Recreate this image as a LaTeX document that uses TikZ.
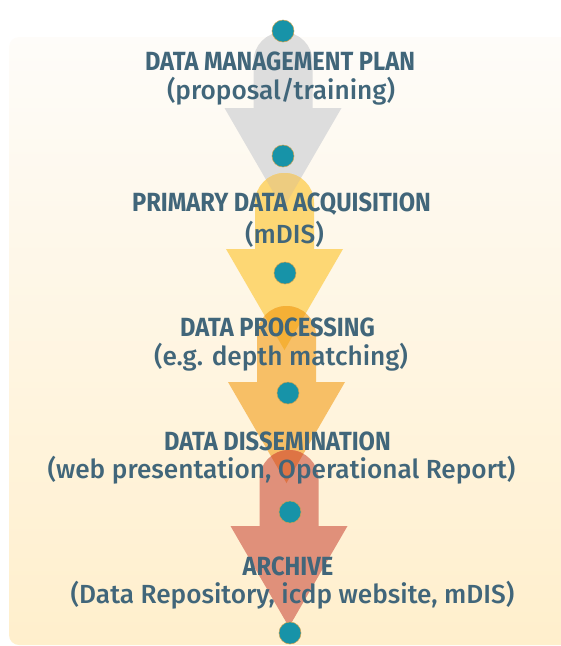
\documentclass[tikz,border=0pt]{standalone}
\usepackage{fontspec}
\setmainfont{Fira Sans}
\newfontfamily\headfont[FakeStretch=0.9]{Fira Sans Bold}
\newfontfamily\subfont{Fira Sans Medium}
\definecolor{bgtop}{HTML}{FEFCF9}
\definecolor{bgbot}{HTML}{FFEFCC}
\definecolor{greyA}{HTML}{DDDDDD}
\definecolor{yellowA}{HTML}{FDD774}
\definecolor{orangeA}{HTML}{F7BF66}
\definecolor{salmonA}{HTML}{E0907A}
\definecolor{ovGY}{HTML}{EDCC80}
\definecolor{ovYO}{HTML}{F5B036}
\definecolor{ovOS}{HTML}{DE7444}
\definecolor{txt}{HTML}{41667A}
\definecolor{dotfill}{HTML}{1793A8}
\definecolor{dotline}{HTML}{C9A050}
\newcommand\arrowpath[2]{({#1-29.5},{#2+29.5}) .. controls ({#1-29.5},{#2+13.2}) and ({#1-16.3},{#2}) .. ({#1},{#2}) .. controls ({#1+16.3},{#2}) and ({#1+29.5},{#2+13.2}) .. ({#1+29.5},{#2+29.5}) -- ({#1+29.5},{#2+76}) -- ({#1+58.5},{#2+76}) -- ({#1},{#2+177}) -- ({#1-58.5},{#2+76}) -- ({#1-29.5},{#2+76}) -- cycle}
\tikzset{
  head/.style={text=txt, inner sep=0pt, font=\headfont\fontsize{26.3}{28}\selectfont},
  sub/.style={text=txt, inner sep=0pt, font=\subfont\fontsize{26.2}{28}\selectfont},
  dot/.style={circle, fill=dotfill, draw=dotline, line width=0.5pt, minimum size=22pt, inner sep=0pt}
}
\begin{document}
\begin{tikzpicture}[x=1pt,y=-1pt]
\useasboundingbox (0,0) rectangle (561,646);
\shade[top color=bgtop, bottom color=bgbot, rounded corners=10pt] (9,37) rectangle (580,645);
% arrows
\fill[greyA] \arrowpath{283}{32};
\fill[yellowA] \arrowpath{284.5}{173};
\fill[orangeA] \arrowpath{286.5}{306};
\fill[salmonA] \arrowpath{289}{450};
% overlaps
\begin{scope}
  \clip \arrowpath{283}{32};
  \fill[ovGY] \arrowpath{284.5}{173};
\end{scope}
\begin{scope}
  \clip \arrowpath{284.5}{173};
  \fill[ovYO] \arrowpath{286.5}{306};
\end{scope}
\begin{scope}
  \clip \arrowpath{286.5}{306};
  \fill[ovOS] \arrowpath{289}{450};
\end{scope}
% texts
\node[head] (h1) at (280,61.5) {DATA MANAGEMENT PLAN};
\node[sub] (s1) at (281,91.5) {(proposal/training)};
\node[head] (h2) at (281.5,204.5) {PRIMARY DATA ACQUISITION};
\node[sub] (s2) at (284.5,234) {(mDIS)};
\node[head] (h3) at (277.5,327) {DATA PROCESSING};
\node[sub] (s3) at (281,357.5) {(e.g. depth matching)};
\node[head] (h4) at (277.5,441) {DATA DISSEMINATION};
\node[sub] (s4) at (281.5,470.5) {(web presentation, Operational Report)};
\node[head] (h5) at (288,566) {ARCHIVE};
\node[sub] (s5) at (292.5,595) {(Data Repository, icdp website, mDIS)};
% dots
\node[dot] (d1) at (283,31) {};
\node[dot] (d2) at (283,156) {};
\node[dot] (d3) at (285,273) {};
\node[dot] (d4) at (288,393) {};
\node[dot] (d5) at (290,512) {};
\node[dot] (d6) at (290,633) {};
\end{tikzpicture}
\end{document}
